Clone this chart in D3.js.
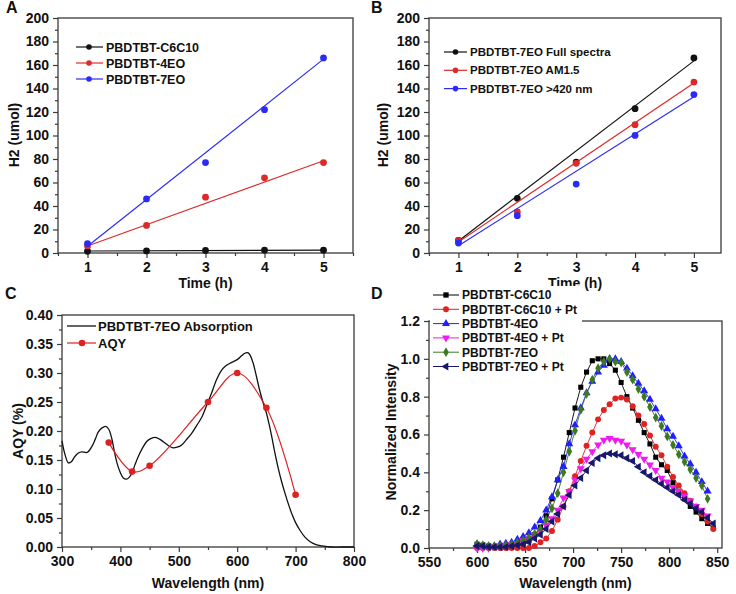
<!DOCTYPE html>
<html><head><meta charset="utf-8">
<script src="https://cdn.jsdelivr.net/npm/d3@7"></script>
<style>
body{margin:0;background:#fff}
svg{display:block}
text{font-family:"Liberation Sans",Arial,Helvetica,sans-serif;font-weight:bold;fill:#111}
</style>
</head><body><svg id="c" width="736" height="594"></svg>
<script>
// ---------- Panel A data ----------
const hoursA = [1, 2, 3, 4, 5];
const a_C6C10 = [1.5, 1.8, 2.2, 2.4, 2.4];
const a_4EO = [6, 23.5, 47.5, 64, 77];
const a_7EO = [8, 46, 77, 122, 166];
const fitA_C6C10 = [1.7, 2.5];
const fitA_4EO = [6, 78.5];
const fitA_7EO = [5.7, 165];
const namesA = ["PBDTBT-C6C10", "PBDTBT-4EO", "PBDTBT-7EO"];

// ---------- Panel B data ----------
const hoursB = [1, 2, 3, 4, 5];
const b_full = [10.8, 46.5, 77.4, 122.8, 166];
const b_am15 = [10.5, 34.9, 76.3, 109.2, 145.5];
const b_420 = [8.5, 31.8, 58.7, 100.1, 134.8];
const fitB_full = [10.2, 163.5];
const fitB_am15 = [9.4, 144.7];
const fitB_420 = [6.2, 133];
const namesB = ["PBDTBT-7EO Full spectra", "PBDTBT-7EO AM1.5", "PBDTBT-7EO >420 nm"];

// ---------- Panel C data ----------
const absWl = [300,305,311,316,322,328,334,343,351,357,362,368,375,380,385,390,395,400,405,410,415,420,425,431,438,445,452,460,467,474,482,490,497,505,513,522,531,540,548,556,564,572,580,590,600,608,613,618,622,627,633,638,644,650,655,660,665,670,676,682,688,694,700,708,716,725,735,745,760,780,800];
const absVal = [0.183,0.160,0.145,0.147,0.156,0.162,0.164,0.163,0.173,0.186,0.198,0.205,0.208,0.203,0.188,0.163,0.142,0.128,0.119,0.117,0.120,0.128,0.142,0.157,0.171,0.182,0.187,0.189,0.186,0.181,0.175,0.171,0.172,0.176,0.185,0.196,0.210,0.225,0.245,0.265,0.287,0.303,0.312,0.318,0.323,0.330,0.334,0.335,0.331,0.318,0.294,0.272,0.250,0.231,0.210,0.186,0.160,0.137,0.113,0.092,0.073,0.056,0.042,0.028,0.017,0.009,0.004,0.002,0.0,0.0,0.0];
const aqyWl = [380, 420, 450, 550, 600, 650, 700];
const aqyVal = [0.18, 0.13, 0.14, 0.25, 0.30, 0.24, 0.09];
const namesC = ["PBDTBT-7EO Absorption", "AQY"];

// ---------- Panel D data ----------
const plWl = [600,606,612,618,624,630,636,642,648,654,660,666,672,678,684,690,696,702,708,714,720,726,732,738,744,750,756,762,768,774,780,786,792,798,804,810,816,822,828,834,840,846];
const d_C6C10 = [0.02,0.015,0.01,0.005,0.005,0.005,0.005,0.01,0.02,0.04,0.07,0.11,0.17,0.26,0.36,0.48,0.61,0.74,0.85,0.93,0.99,1.0,1.0,0.975,0.94,0.875,0.80,0.74,0.675,0.61,0.55,0.48,0.44,0.41,0.345,0.30,0.26,0.22,0.19,0.155,0.13,0.105];
const d_C6C10Pt = [0,0,0,0,0,0,0,0,0,0,0.01,0.03,0.05,0.09,0.15,0.22,0.30,0.38,0.46,0.54,0.61,0.68,0.73,0.76,0.79,0.795,0.785,0.75,0.70,0.655,0.595,0.535,0.49,0.43,0.375,0.33,0.29,0.25,0.22,0.18,0.14,0.10];
const d_4EO = [0.02,0.01,0.01,0.01,0.02,0.025,0.03,0.045,0.06,0.08,0.11,0.145,0.20,0.27,0.36,0.43,0.55,0.65,0.74,0.82,0.88,0.93,0.965,1.0,1.0,0.985,0.95,0.91,0.87,0.83,0.785,0.735,0.685,0.63,0.59,0.54,0.485,0.445,0.40,0.35,0.30];
const d_4EOPt = [0,0,0,0.01,0.01,0.015,0.02,0.025,0.04,0.05,0.07,0.09,0.12,0.155,0.20,0.265,0.30,0.36,0.42,0.47,0.51,0.545,0.57,0.58,0.57,0.565,0.545,0.52,0.495,0.47,0.44,0.41,0.37,0.35,0.32,0.30,0.275,0.25,0.22,0.20,0.17];
const d_7EO = [0.02,0.015,0.01,0.01,0.01,0.015,0.02,0.03,0.04,0.055,0.075,0.10,0.15,0.21,0.29,0.40,0.51,0.62,0.73,0.815,0.89,0.95,0.985,1.0,0.985,0.98,0.93,0.89,0.84,0.80,0.745,0.69,0.645,0.59,0.545,0.495,0.455,0.415,0.37,0.33,0.26];
const d_7EOPt = [0.01,0.01,0.005,0.005,0.005,0.005,0.01,0.015,0.02,0.03,0.05,0.07,0.10,0.14,0.18,0.22,0.28,0.33,0.37,0.41,0.45,0.475,0.49,0.50,0.495,0.49,0.475,0.46,0.43,0.40,0.38,0.36,0.34,0.32,0.30,0.28,0.255,0.235,0.21,0.19,0.16,0.13];
const namesD = ["PBDTBT-C6C10", "PBDTBT-C6C10 + Pt", "PBDTBT-4EO", "PBDTBT-4EO + Pt", "PBDTBT-7EO", "PBDTBT-7EO + Pt"];

// ---------- tick values ----------
const tickH2 = [0,20,40,60,80,100,120,140,160,180,200];
const tickH2Minor = [10,30,50,70,90,110,130,150,170,190];
const tickHours = [1,2,3,4,5];
const tickHoursMinor = [0.5,1.5,2.5,3.5,4.5,5.5];
const tickAQY = [0,0.05,0.10,0.15,0.20,0.25,0.30,0.35,0.40];
const tickAQYMinor = [0.025,0.075,0.125,0.175,0.225,0.275,0.325,0.375];
const tickWlC = [300,400,500,600,700,800];
const tickWlCMinor = [350,450,550,650,750];
const tickInt = [0,0.2,0.4,0.6,0.8,1.0,1.2];
const tickIntMinor = [0.1,0.3,0.5,0.7,0.9,1.1];
const tickWlD = [550,600,650,700,750,800,850];
const tickWlDMinor = [575,625,675,725,775,825];

const svg = d3.select("#c");
const FRAME = "#3a3a3a";

function panel(o) {
  const g = svg.append("g");
  const x = d3.scaleLinear().domain(o.xDomain).range([o.x0, o.x1]);
  const y = d3.scaleLinear().domain(o.yDomain).range([o.y1, o.y0]);
  g.append("g").attr("transform", `translate(0,${o.y1})`)
    .call(d3.axisBottom(x).tickValues(o.xMinor).tickSize(3).tickFormat(""))
    .call(s => s.select(".domain").remove()).attr("color", FRAME);
  g.append("g").attr("transform", `translate(${o.x0},0)`)
    .call(d3.axisLeft(y).tickValues(o.yMinor).tickSize(3).tickFormat(""))
    .call(s => s.select(".domain").remove()).attr("color", FRAME);
  const xa = g.append("g").attr("transform", `translate(0,${o.y1})`)
    .call(d3.axisBottom(x).tickValues(o.xMajor).tickSize(5).tickPadding(4).tickFormat(o.xFmt))
    .call(s => s.select(".domain").remove()).attr("color", FRAME);
  xa.attr("font-size", o.tickFont).attr("font-family", null);
  const ya = g.append("g").attr("transform", `translate(${o.x0},0)`)
    .call(d3.axisLeft(y).tickValues(o.yMajor).tickSize(5).tickPadding(4).tickFormat(o.yFmt))
    .call(s => s.select(".domain").remove()).attr("color", FRAME);
  ya.attr("font-size", o.tickFont).attr("font-family", null);
  g.selectAll(".tick line").attr("stroke-width", 1.2);
  g.append("rect").attr("x", o.x0).attr("y", o.y0)
    .attr("width", o.x1 - o.x0).attr("height", o.y1 - o.y0)
    .attr("fill", "none").attr("stroke", FRAME).attr("stroke-width", 1.3);
  g.append("text").attr("x", (o.x0 + o.x1) / 2).attr("y", o.xTitleY)
    .attr("text-anchor", "middle").attr("font-size", 14).text(o.xTitle);
  g.append("text").attr("transform", `translate(${o.yTitleX},${o.yTitleY}) rotate(-90)`)
    .attr("text-anchor", "middle").attr("dy", "0.35em").attr("font-size", 14).text(o.yTitle);
  g.append("text").attr("x", o.labelX).attr("y", o.labelY)
    .attr("font-size", 16).text(o.label);
  return { g, x, y };
}

const fmt0 = d3.format("d");
const fmt2 = d3.format(".2f");
const fmt1 = d3.format(".1f");

// ---------- Panel A ----------
(function () {
  const p = panel({ x0: 58, x1: 353, y0: 18, y1: 253, xDomain: [0.5, 5.5], yDomain: [0, 200],
    xMajor: tickHours, xMinor: tickHoursMinor, yMajor: tickH2, yMinor: tickH2Minor,
    xFmt: fmt0, yFmt: fmt0, tickFont: 14, xTitle: "Time (h)", xTitleY: 288,
    yTitle: "H2 (umol)", yTitleX: 14, yTitleY: 135, label: "A", labelX: 6, labelY: 13 });
  const series = [
    { v: a_C6C10, fit: fitA_C6C10, c: "#111111", n: namesA[0] },
    { v: a_4EO, fit: fitA_4EO, c: "#dc2a2a", n: namesA[1] },
    { v: a_7EO, fit: fitA_7EO, c: "#2b2bf5", n: namesA[2] }];
  const line = d3.line().x(d => p.x(d[0])).y(d => p.y(d[1]));
  series.forEach(s => {
    p.g.append("path").attr("d", line([[hoursA[0], s.fit[0]], [hoursA[hoursA.length - 1], s.fit[1]]]))
      .attr("fill", "none").attr("stroke", s.c).attr("stroke-width", 1.2);
    p.g.selectAll(null).data(s.v).enter().append("circle")
      .attr("cx", (d, i) => p.x(hoursA[i])).attr("cy", d => p.y(d)).attr("r", 3.4).attr("fill", s.c);
  });
  series.forEach((s, i) => {
    const yy = 47 + i * 16;
    p.g.append("line").attr("x1", 76).attr("x2", 103).attr("y1", yy).attr("y2", yy).attr("stroke", s.c).attr("stroke-width", 1.2);
    p.g.append("circle").attr("cx", 89).attr("cy", yy).attr("r", 2.8).attr("fill", s.c);
    p.g.append("text").attr("x", 106).attr("y", yy).attr("dy", "0.36em").attr("font-size", 12.5).text(s.n);
  });
})();

// ---------- Panel B ----------
(function () {
  const p = panel({ x0: 429, x1: 721, y0: 18, y1: 253, xDomain: [0.5, 5.46], yDomain: [0, 200],
    xMajor: tickHours, xMinor: tickHoursMinor.slice(0, 5), yMajor: tickH2, yMinor: tickH2Minor,
    xFmt: fmt0, yFmt: fmt0, tickFont: 14, xTitle: "Time (h)", xTitleY: 288,
    yTitle: "H2 (umol)", yTitleX: 383, yTitleY: 135, label: "B", labelX: 371, labelY: 13 });
  const series = [
    { v: b_full, fit: fitB_full, c: "#111111", n: namesB[0] },
    { v: b_am15, fit: fitB_am15, c: "#dc2a2a", n: namesB[1] },
    { v: b_420, fit: fitB_420, c: "#2b2bf5", n: namesB[2] }];
  const line = d3.line().x(d => p.x(d[0])).y(d => p.y(d[1]));
  series.forEach(s => {
    p.g.append("path").attr("d", line([[hoursB[0], s.fit[0]], [hoursB[hoursB.length - 1], s.fit[1]]]))
      .attr("fill", "none").attr("stroke", s.c).attr("stroke-width", 1.2);
    p.g.selectAll(null).data(s.v).enter().append("circle")
      .attr("cx", (d, i) => p.x(hoursB[i])).attr("cy", d => p.y(d)).attr("r", 3.4).attr("fill", s.c);
  });
  series.forEach((s, i) => {
    const yy = 52 + i * 18.3;
    p.g.append("line").attr("x1", 444).attr("x2", 467).attr("y1", yy).attr("y2", yy).attr("stroke", s.c).attr("stroke-width", 1.2);
    p.g.append("circle").attr("cx", 455.5).attr("cy", yy).attr("r", 2.8).attr("fill", s.c);
    p.g.append("text").attr("x", 470).attr("y", yy).attr("dy", "0.36em").attr("font-size", 11.5).text(s.n);
  });
})();

// ---------- Panel C ----------
(function () {
  const p = panel({ x0: 62, x1: 354, y0: 315, y1: 547, xDomain: [300, 800], yDomain: [0, 0.4],
    xMajor: tickWlC, xMinor: tickWlCMinor, yMajor: tickAQY, yMinor: tickAQYMinor,
    xFmt: fmt0, yFmt: fmt2, tickFont: 14, xTitle: "Wavelength (nm)", xTitleY: 588,
    yTitle: "AQY (%)", yTitleX: 18, yTitleY: 431, label: "C", labelX: 5, labelY: 299 });
  const absLine = d3.line().x((d, i) => p.x(absWl[i])).y(d => p.y(d)).curve(d3.curveCatmullRom.alpha(0.5));
  p.g.append("path").attr("d", absLine(absVal)).attr("fill", "none").attr("stroke", "#111").attr("stroke-width", 1.3);
  const aqyLine = d3.line().x((d, i) => p.x(aqyWl[i])).y(d => p.y(d)).curve(d3.curveCatmullRom.alpha(0.5));
  p.g.append("path").attr("d", aqyLine(aqyVal)).attr("fill", "none").attr("stroke", "#dd2222").attr("stroke-width", 1.2);
  p.g.selectAll(null).data(aqyVal).enter().append("circle")
    .attr("cx", (d, i) => p.x(aqyWl[i])).attr("cy", d => p.y(d)).attr("r", 3.3).attr("fill", "#dd2222");
  p.g.append("line").attr("x1", 67).attr("x2", 96).attr("y1", 326).attr("y2", 326).attr("stroke", "#111").attr("stroke-width", 1.3);
  p.g.append("text").attr("x", 98).attr("y", 326).attr("dy", "0.36em").attr("font-size", 13).text(namesC[0]);
  p.g.append("line").attr("x1", 67).attr("x2", 96).attr("y1", 343).attr("y2", 343).attr("stroke", "#dd2222").attr("stroke-width", 1.2);
  p.g.append("circle").attr("cx", 82).attr("cy", 343).attr("r", 3.3).attr("fill", "#dd2222");
  p.g.append("text").attr("x", 98).attr("y", 343).attr("dy", "0.36em").attr("font-size", 13).text(namesC[1]);
})();

// ---------- Panel D ----------
(function () {
  const p = panel({ x0: 429, x1: 722, y0: 321, y1: 548, xDomain: [550, 855], yDomain: [0, 1.2],
    xMajor: tickWlD, xMinor: tickWlDMinor, yMajor: tickInt, yMinor: tickIntMinor,
    xFmt: fmt0, yFmt: fmt1, tickFont: 14, xTitle: "Wavelength (nm)", xTitleY: 588,
    yTitle: "Normalized Intensity", yTitleX: 391, yTitleY: 432, label: "D", labelX: 371, labelY: 299 });
  const series = [
    { v: d_C6C10, c: "#000000", sym: d3.symbolSquare, rot: 0, size: 26 },
    { v: d_C6C10Pt, c: "#e02222", sym: d3.symbolCircle, rot: 0, size: 28 },
    { v: d_4EO, c: "#2020ff", sym: d3.symbolTriangle, rot: 0, size: 28 },
    { v: d_4EOPt, c: "#ee1cee", sym: d3.symbolTriangle, rot: 180, size: 28 },
    { v: d_7EO, c: "#3b7a1e", sym: d3.symbolDiamond, rot: 0, size: 28 },
    { v: d_7EOPt, c: "#17176b", sym: d3.symbolTriangle, rot: -90, size: 28 }];
  const line = d3.line().x((d, i) => p.x(plWl[i])).y(d => p.y(d));
  series.forEach(s => {
    p.g.append("path").attr("d", line(s.v)).attr("fill", "none").attr("stroke", s.c).attr("stroke-width", 0.9);
  });
  series.forEach(s => {
    const sp = d3.symbol().type(s.sym).size(s.size);
    p.g.selectAll(null).data(s.v).enter().append("path")
      .attr("d", sp)
      .attr("transform", (d, i) => `translate(${p.x(plWl[i])},${p.y(d)}) rotate(${s.rot})`)
      .attr("fill", s.c);
  });
  p.g.append("rect").attr("x", 430).attr("y", 286).attr("width", 152).attr("height", 89).attr("fill", "#fff");
  series.forEach((s, i) => {
    const yy = 295 + i * 14.3;
    p.g.append("line").attr("x1", 433).attr("x2", 459).attr("y1", yy).attr("y2", yy).attr("stroke", s.c).attr("stroke-width", 1);
    p.g.append("path").attr("d", d3.symbol().type(s.sym).size(28))
      .attr("transform", `translate(446,${yy}) rotate(${s.rot})`).attr("fill", s.c);
    p.g.append("text").attr("x", 462).attr("y", yy).attr("dy", "0.36em").attr("font-size", 12).text(namesD[i]);
  });
})();
</script>
</body></html>
